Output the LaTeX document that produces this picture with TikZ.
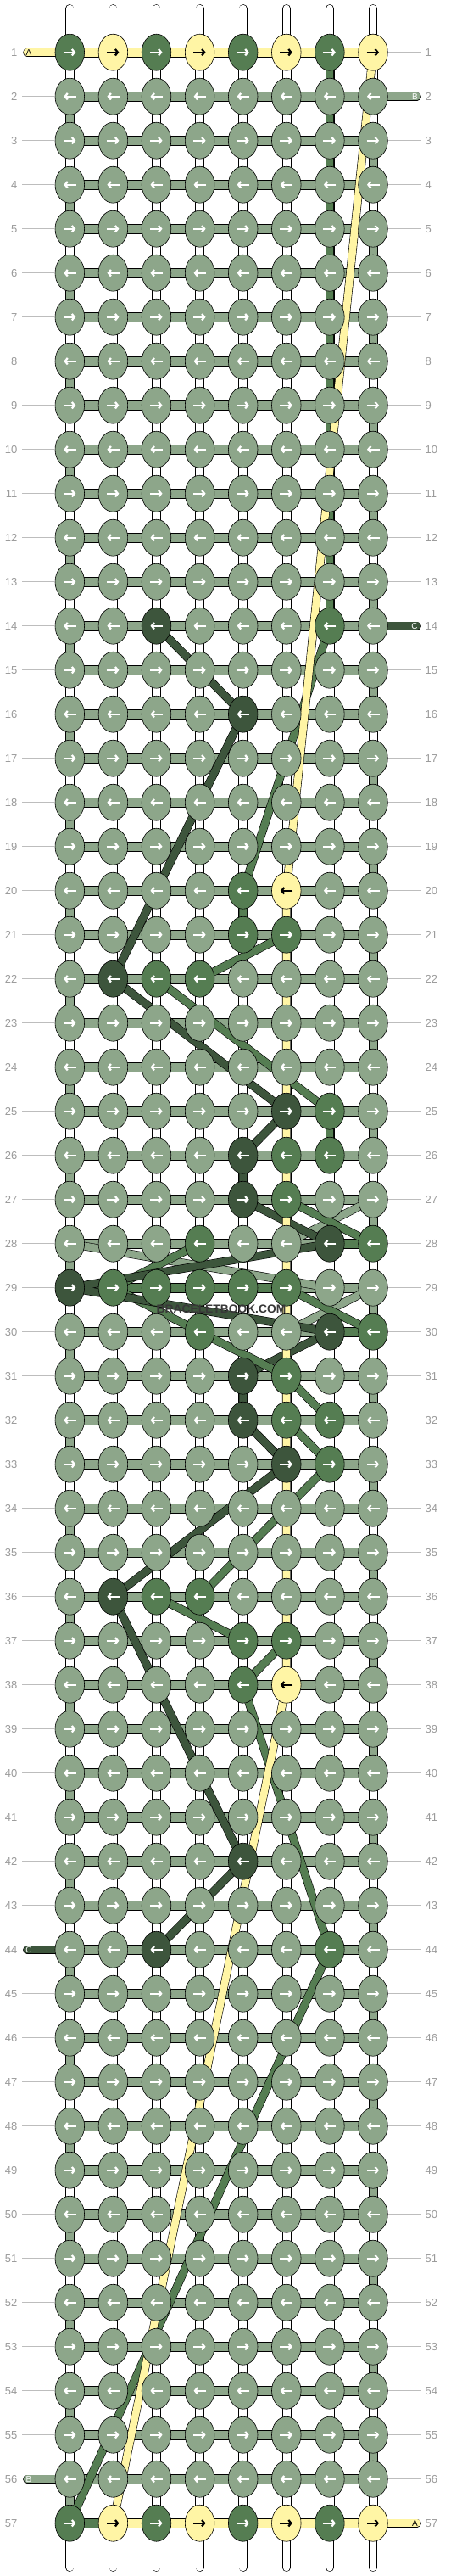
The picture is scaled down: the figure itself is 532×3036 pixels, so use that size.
\documentclass[tikz,border=0pt]{standalone}
\usepackage{fontspec}
\setmainfont{Liberation Sans}
\usetikzlibrary{shapes.geometric,arrows.meta}

\definecolor{lgreen}{HTML}{8DA68A}
\definecolor{dgreen}{HTML}{557D52}
\definecolor{vdgreen}{HTML}{3D553C}
\definecolor{yarn}{HTML}{FFF5A5}
\definecolor{numgray}{HTML}{9A9A9A}
\definecolor{linegray}{HTML}{BDBDBD}

% colour tables
\newcommand{\setcol}[3]{\expandafter\xdef\csname #1-#2\endcsname{#3}}
\newcommand{\getcol}[3]{\ifcsname #1-#2\endcsname
  \edef\thecol{\csname #1-#2\endcsname}\else\edef\thecol{#3}\fi}
\def\yarnname{yarn}

% knots that are not light green
\foreach \r/\c/\k in {1/1/dgreen,1/2/yarn,1/3/dgreen,1/4/yarn,1/5/dgreen,1/6/yarn,1/7/dgreen,1/8/yarn,
  14/3/vdgreen,14/7/dgreen,16/5/vdgreen,20/5/dgreen,20/6/yarn,21/5/dgreen,21/6/dgreen,
  22/2/vdgreen,22/3/dgreen,22/4/dgreen,25/6/vdgreen,25/7/dgreen,
  26/5/vdgreen,26/6/dgreen,26/7/dgreen,27/5/vdgreen,27/6/dgreen,
  28/4/dgreen,28/7/vdgreen,28/8/dgreen,
  29/1/vdgreen,29/2/dgreen,29/3/dgreen,29/4/dgreen,29/5/dgreen,29/6/dgreen,
  30/4/dgreen,30/7/vdgreen,30/8/dgreen,31/5/vdgreen,31/6/dgreen,
  32/5/vdgreen,32/6/dgreen,32/7/dgreen,33/6/vdgreen,33/7/dgreen,
  36/2/vdgreen,36/3/dgreen,36/4/dgreen,37/5/dgreen,37/6/dgreen,38/5/dgreen,38/6/yarn,
  42/5/vdgreen,44/3/vdgreen,44/7/dgreen,
  57/1/dgreen,57/2/yarn,57/3/dgreen,57/4/yarn,57/5/dgreen,57/6/yarn,57/7/dgreen,57/8/yarn}
  {\setcol{kn}{\r-\c}{\k}}

% bars that are not the row colour
\foreach \r/\c/\k in {29/1/vdgreen,29/2/dgreen,29/3/dgreen,29/4/dgreen,29/5/dgreen,
  28/7/dgreen,30/7/dgreen,57/1/dgreen}
  {\setcol{hb}{\r-\c}{\k}}

\begin{document}
\begin{tikzpicture}[x=1pt,y=-1pt,
  knot/.style={ellipse,draw=black,line width=0.6pt,minimum width=34.6pt,minimum height=43pt,inner sep=0pt},
  rarr/.style={path picture={\draw[draw=#1,line width=2.3pt,-{Straight Barb[length=3pt,width=7.5pt]}]
    ([xshift=-7.5pt]path picture bounding box.center) -- ([xshift=7pt]path picture bounding box.center);}},
  larr/.style={path picture={\draw[draw=#1,line width=2.3pt,-{Straight Barb[length=3pt,width=7.5pt]}]
    ([xshift=7.5pt]path picture bounding box.center) -- ([xshift=-7pt]path picture bounding box.center);}},
  seg/.style={draw=black,line width=0.6pt},
  strand/.style={draw=black,line width=0.6pt,double=#1,double distance=8.6pt,line join=round},
  tail/.style={strand=#1,line cap=round},
  rownum/.style={text=numgray,inner sep=0pt,font=\fontsize{13}{15}\selectfont},
  endlbl/.style={inner sep=0pt,font=\fontsize{10}{12}\selectfont},
  guide/.style={draw=linegray,line width=0.8pt}]
\useasboundingbox (0,0) rectangle (532,3036);

% grid points
\foreach \r in {1,...,57}
  \foreach \c in {1,...,8}
    \coordinate (p-\r-\c) at (31.2+51.1*\c, 9.7+52*\r);

% strings above and below
\foreach \c in {1,...,8}{
  \coordinate (top-\c) at (31.2+51.1*\c, 10);
  \coordinate (bot-\c) at (31.2+51.1*\c, 3026);
  \draw[tail=white] (top-\c) -- (p-1-\c);
  \draw[tail=white] (bot-\c) -- (p-57-\c);
}

% vertical pieces between knots
\foreach \r in {1,...,56}
  \foreach \c in {1,...,8}{
    \pgfmathtruncatemacro\rn{\r+1}
    \def\thecol{white}
    \ifnum\c=1 \ifodd\r\relax\else\def\thecol{lgreen}\fi\fi
    \ifnum\c=8 \ifodd\r\relax\ifnum\r>1 \def\thecol{lgreen}\fi\fi\fi
    \draw[seg,fill=\thecol] ([xshift=-5pt]p-\r-\c) rectangle ([xshift=5pt]p-\rn-\c);
  }

% horizontal bars
\foreach \r in {1,...,57}
  \foreach \c in {1,...,7}{
    \pgfmathtruncatemacro\cn{\c+1}
    \def\rowcol{lgreen}
    \ifnum\r=1 \def\rowcol{yarn}\fi
    \ifnum\r=57 \def\rowcol{yarn}\fi
    \getcol{hb}{\r-\c}{\rowcol}
    \draw[seg,fill=\thecol] ([yshift=-5.5pt]p-\r-\c) rectangle ([yshift=5.5pt]p-\r-\cn);
  }

% loose ends A, B, C
\coordinate (e-1) at (32,61.7);
\coordinate (e-2) at (492,113.7);
\coordinate (e-14) at (492,737.7);
\coordinate (e-44) at (32,2297.7);
\coordinate (e-56) at (32,2921.7);
\coordinate (e-57) at (492,2973.7);
\draw[tail=yarn] (e-1) -- (p-1-1);
\draw[tail=lgreen] (p-2-8) -- (e-2);
\draw[tail=vdgreen] (p-14-8) -- (e-14);
\draw[tail=vdgreen] (e-44) -- (p-44-1);
\draw[tail=lgreen] (e-56) -- (p-56-1);
\draw[tail=yarn] (p-57-8) -- (e-57);
\node[endlbl,text=black] (a-1) at ([xshift=2pt]e-1) {A};
\node[endlbl,text=white] (b-2) at ([xshift=-2.5pt]e-2) {B};
\node[endlbl,text=white] (c-14) at ([xshift=-3pt]e-14) {C};
\node[endlbl,text=white] (c-44) at ([xshift=2pt]e-44) {C};
\node[endlbl,text=white] (b-56) at ([xshift=2pt]e-56) {B};
\node[endlbl,text=black] (a-57) at ([xshift=-2.5pt]e-57) {A};

% light green carried strings
\draw[strand=lgreen] (p-27-8) -- (p-28-6);
\draw[strand=lgreen] (p-28-1) -- (p-29-7);
\draw[strand=lgreen] (p-29-8) -- (p-30-6);

% dark green strings in the middle
\draw[strand=dgreen] (p-28-4) -- (p-29-2) -- (p-30-4);

% very dark green string C
\draw[strand=vdgreen] (p-14-3) -- (p-16-5) -- (p-22-2) -- (p-25-6) -- (p-26-5) -- (p-27-5)
  -- (p-28-7) -- (p-29-1) -- (p-30-7) -- (p-31-5) -- (p-32-5) -- (p-33-6) -- (p-36-2)
  -- (p-42-5) -- (p-44-3);

% dark green string
\draw[strand=dgreen] (p-1-7) -- (p-14-7) -- (p-20-5) -- (p-21-5);
\draw[strand=dgreen] (p-21-6) -- (p-22-4);
\draw[strand=dgreen] (p-22-3) -- (p-25-7) -- (p-26-7);
\draw[strand=dgreen] (p-27-6) -- (p-28-8);
\draw[strand=dgreen] (p-29-6) -- (p-30-8);
\draw[strand=dgreen] (p-30-4) -- (p-31-6) -- (p-32-7);
\draw[strand=dgreen] (p-32-6) -- (p-33-7) -- (p-36-4);
\draw[strand=dgreen] (p-36-3) -- (p-37-5);
\draw[strand=dgreen] (p-37-6) -- (p-38-5) -- (p-44-7) -- (p-57-1);

% yellow string A
\draw[strand=yarn] (p-1-8) -- (p-20-6) -- (p-38-6) -- (p-57-2);

% knots
\foreach \r in {1,...,57}
  \foreach \c in {1,...,8}{
    \getcol{kn}{\r-\c}{lgreen}
    \ifx\thecol\yarnname \def\acol{black}\else\def\acol{white}\fi
    \ifodd\r\relax
      \node[knot,fill=\thecol,rarr=\acol] (k-\r-\c) at (p-\r-\c) {};
    \else
      \node[knot,fill=\thecol,larr=\acol] (k-\r-\c) at (p-\r-\c) {};
    \fi
  }

% row numbers
\foreach \r in {1,...,57}{
  \node[rownum,anchor=east] (ln-\r) at (20.5, 9.7+52*\r) {\r};
  \node[rownum,anchor=west] (rn-\r) at (501.5, 9.7+52*\r) {\r};
  \ifnum\r=1 \else\ifnum\r=44 \else\ifnum\r=56 \else
    \draw[guide] ([xshift=5.5pt]ln-\r.east) -- (k-\r-1.west);
  \fi\fi\fi
  \ifnum\r=2 \else\ifnum\r=14 \else\ifnum\r=57 \else
    \draw[guide] (k-\r-8.east) -- ([xshift=-4.5pt]rn-\r.west);
  \fi\fi\fi
}

% watermark
\node[text=black!78,font=\bfseries\fontsize{13.8}{16}\selectfont] (wm) at (261,1543) {BRACELETBOOK.COM};
\end{tikzpicture}
\end{document}
